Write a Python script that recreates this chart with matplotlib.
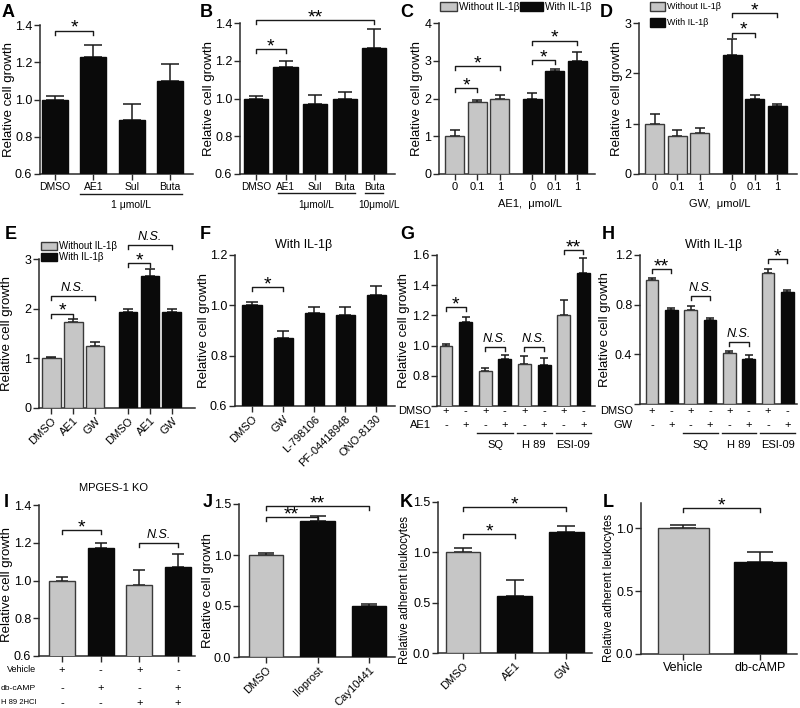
import matplotlib
matplotlib.use('Agg')
import matplotlib.pyplot as plt
import matplotlib.transforms as mtransforms
from matplotlib.patches import Rectangle
import numpy as np

plt.rcParams['font.family'] = ['Liberation Sans', 'DejaVu Sans']

# ---------------- data ----------------
a_labels = ['DMSO', 'AE1', 'Sul', 'Buta']
a_vals = [1.00, 1.23, 0.89, 1.10]
a_errs = [0.02, 0.06, 0.085, 0.09]

b_labels = ['DMSO', 'AE1', 'Sul', 'Buta', 'Buta']
b_vals = [1.00, 1.165, 0.97, 0.995, 1.265]
b_errs = [0.015, 0.035, 0.05, 0.04, 0.105]

dose_labels = ['0', '0.1', '1', '0', '0.1', '1']
c_without = [1.00, 1.90, 1.98]
c_without_err = [0.17, 0.07, 0.12]
c_with = [1.98, 2.72, 3.00]
c_with_err = [0.17, 0.05, 0.22]

d_without = [1.00, 0.75, 0.81]
d_without_err = [0.19, 0.12, 0.11]
d_with = [2.36, 1.50, 1.36]
d_with_err = [0.33, 0.07, 0.04]

e_labels = ['DMSO', 'AE1', 'GW', 'DMSO', 'AE1', 'GW']
e_without = [1.00, 1.73, 1.25]
e_without_err = [0.03, 0.07, 0.08]
e_with = [1.94, 2.65, 1.93]
e_with_err = [0.06, 0.14, 0.06]

f_labels = ['DMSO', 'GW', 'L-798106', 'PF-04418948', 'ONO-8130']
f_vals = [1.00, 0.87, 0.97, 0.96, 1.04]
f_errs = [0.012, 0.028, 0.022, 0.035, 0.035]

g_gray = [1.00, 0.83, 0.88, 1.20]
g_gray_err = [0.01, 0.02, 0.05, 0.10]
g_black = [1.155, 0.91, 0.87, 1.48]
g_black_err = [0.035, 0.03, 0.05, 0.10]
g_dmso = ['+', '-', '+', '-', '+', '-', '+', '-']
g_ae1 = ['-', '+', '-', '+', '-', '+', '-', '+']
inhibitors = ['SQ', 'H 89', 'ESI-09']

h_gray = [1.00, 0.755, 0.41, 1.055]
h_gray_err = [0.015, 0.035, 0.02, 0.035]
h_black = [0.755, 0.675, 0.36, 0.90]
h_black_err = [0.02, 0.02, 0.035, 0.02]
h_dmso = ['+', '-', '+', '-', '+', '-', '+', '-']
h_gw = ['-', '+', '-', '+', '-', '+', '-', '+']

i_vals = [1.00, 1.17, 0.975, 1.07]
i_errs = [0.02, 0.03, 0.08, 0.07]
i_vehicle = ['+', '-', '+', '-']
i_dbcamp = ['-', '+', '-', '+']
i_h89 = ['-', '-', '+', '+']

j_labels = ['DMSO', 'Iloprost', 'Cay10441']
j_vals = [1.00, 1.33, 0.50]
j_errs = [0.02, 0.05, 0.02]

k_labels = ['DMSO', 'AE1', 'GW']
k_vals = [1.00, 0.57, 1.20]
k_errs = [0.04, 0.16, 0.06]

l_labels = ['Vehicle', 'db-cAMP']
l_vals = [1.00, 0.73]
l_errs = [0.025, 0.08]

# ---------------- style ----------------
W, H = 800, 708
GRAY = '#c6c6c6'
BLACK = '#0a0a0a'
GEDGE = '#3a3a3a'
LINE = '#1a1a1a'
TICK_FS = 9
XL_FS = 8
YL_FS = 9.5

fig = plt.figure(figsize=(8, 7.08), dpi=100)
BOX = {}


def make_ax(x0, y0, x1, y1, ylim, yticks, fmt, hide_first=False):
    ax = fig.add_axes([x0 / W, 1 - y1 / H, (x1 - x0) / W, (y1 - y0) / H])
    BOX[ax] = (x0, y0, x1, y1)
    for s in ['top', 'right']:
        ax.spines[s].set_visible(False)
    for s in ['left', 'bottom']:
        ax.spines[s].set_linewidth(1.1)
        ax.spines[s].set_color('#2a2a2a')
    ax.tick_params(direction='out', length=4, width=1.0, color='#2a2a2a',
                   labelsize=TICK_FS, pad=1.5)
    ax.tick_params(axis='x', labelsize=XL_FS)
    ax.set_ylim(*ylim)
    ax.set_yticks(yticks)
    labels = [fmt.format(t) for t in yticks]
    if hide_first:
        labels[0] = ''
    ax.set_yticklabels(labels)
    return ax


def ylab(ax, text, cx, fs=YL_FS, cy_px=None):
    x0, y0, x1, y1 = BOX[ax]
    ax.set_ylabel(text, fontsize=fs)
    yf = 0.5 if cy_px is None else (y1 - cy_px) / (y1 - y0)
    ax.yaxis.set_label_coords((cx + 6 - x0) / (x1 - x0), yf)


def bars(ax, x, vals, errs, colors, width, cap):
    edges = [GEDGE if c == GRAY else BLACK for c in colors]
    ax.bar(x, vals, width, color=colors, edgecolor=edges, linewidth=1.0, zorder=3)
    ax.errorbar(x, vals, yerr=[np.zeros(len(vals)), errs], fmt='none',
                ecolor=LINE, elinewidth=1.1, capsize=cap, capthick=1.1, zorder=2)


def sig(ax, x1, x2, y, label, ns=False):
    x0p, y0p, x1p, y1p = BOX[ax]
    lo, hi = ax.get_ylim()
    dy = 4 * (hi - lo) / (y1p - y0p)
    ax.plot([x1, x1, x2, x2], [y - dy, y, y, y - dy], color=LINE, lw=1.0,
            clip_on=False, zorder=4)
    if ns:
        ax.annotate('N.S.', xy=((x1 + x2) / 2, y), xytext=(0, 1.5),
                    textcoords='offset points', ha='center', va='bottom',
                    fontsize=9, style='italic', annotation_clip=False)
    else:
        ax.annotate(label, xy=((x1 + x2) / 2, y), xytext=(0, -1.5),
                    textcoords='offset points', ha='center', va='baseline',
                    fontsize=14, annotation_clip=False)


def fy(ypx):
    return 1 - ypx / H


def blend(ax):
    return mtransforms.blended_transform_factory(ax.transData, fig.transFigure)


def underline(ax, xa, xb, ypx, label, ylab_px, xlab=None, fs=XL_FS):
    t = blend(ax)
    ax.plot([xa, xb], [fy(ypx), fy(ypx)], transform=t, color=LINE, lw=1.0, clip_on=False)
    xc = (xa + xb) / 2 if xlab is None else xlab
    ax.text(xc, fy(ylab_px), label, transform=t, ha='center', va='center', fontsize=fs)


def sign_rows(ax, xs, rows, names, ys, name_x, name_fs):
    t = blend(ax)
    for row, name, ypx, nfs in zip(rows, names, ys, name_fs):
        fig.text(name_x / W, fy(ypx), name, ha='right', va='center', fontsize=nfs)
        for x, s in zip(xs, row):
            ax.text(x, fy(ypx), s, transform=t, ha='center', va='center', fontsize=XL_FS)


def legend_box(x, y, w, h, color, label, fs=7.5):
    fig.patches.append(Rectangle((x / W, fy(y + h)), w / W, h / H, transform=fig.transFigure,
                                 facecolor=color, edgecolor=GEDGE if color == GRAY else BLACK,
                                 linewidth=1.0))
    fig.text((x + w + 2) / W, fy(y + h / 2), label, ha='left', va='center', fontsize=fs)


def letter(x, y, s):
    fig.text(x / W, fy(y), s, fontsize=13, fontweight='bold', ha='left', va='top')


# ---------------- A ----------------
ax = make_ax(40, 25, 193, 174, (0.6, 1.4), [0.6, 0.8, 1.0, 1.2, 1.4], '{:.1f}')
xa = np.arange(4)
bars(ax, xa, a_vals, a_errs, [BLACK] * 4, 0.68, 6.5)
ax.set_xlim(-0.39, 3.6)
ax.set_xticks(xa)
ax.set_xticklabels(a_labels, fontsize=7.5)
sig(ax, 0, 1, 1.37, '*')
underline(ax, 0.65, 3.32, 194, '1 μmol/L', 205, fs=7.5)
ylab(ax, 'Relative cell growth', 9)
letter(2, 4, 'A')

# ---------------- B ----------------
ax = make_ax(240, 23, 395, 174, (0.6, 1.4), [0.6, 0.8, 1.0, 1.2, 1.4], '{:.1f}')
xb = np.arange(5)
bars(ax, xb, b_vals, b_errs, [BLACK] * 5, 0.82, 5)
ax.set_xlim(-0.54, 4.7)
ax.set_xticks(xb)
ax.set_xticklabels(b_labels, fontsize=7.2)
sig(ax, 0, 1, 1.26, '*')
sig(ax, 0, 4, 1.415, '**')
underline(ax, 0.75, 3.35, 193, '1μmol/L', 205, fs=7.2)
underline(ax, 3.7, 4.3, 193, '10μmol/L', 205, xlab=4.15, fs=7.2)
ylab(ax, 'Relative cell growth', 209)
letter(200, 4, 'B')

# ---------------- C ----------------
pos6 = np.array([0, 1, 2, 3.45, 4.45, 5.45])
ax = make_ax(439, 23, 595, 174, (0, 4), [0, 1, 2, 3, 4], '{:.0f}')
bars(ax, pos6, c_without + c_with, c_without_err + c_with_err,
     [GRAY] * 3 + [BLACK] * 3, 0.85, 3.5)
ax.set_xlim(-0.71, 6.25)
ax.set_xticks(pos6)
ax.set_xticklabels(dose_labels)
sig(ax, 0, 1, 2.27, '*')
sig(ax, 0, 2, 2.86, '*')
sig(ax, 3.45, 4.45, 3.02, '*')
sig(ax, 3.45, 5.45, 3.53, '*')
fig.text(530 / W, fy(204), 'AE1,  μmol/L', ha='center', va='center', fontsize=XL_FS)
ylab(ax, 'Relative cell growth', 417)
legend_box(440, 2, 17, 9, GRAY, 'Without IL-1β', fs=7.3)
legend_box(520, 2, 23, 9, BLACK, 'With IL-1β', fs=7.3)
letter(400, 4, 'C')

# ---------------- D ----------------
ax = make_ax(639, 23, 797, 174, (0, 3), [0, 1, 2, 3], '{:.0f}')
bars(ax, pos6, d_without + d_with, d_without_err + d_with_err,
     [GRAY] * 3 + [BLACK] * 3, 0.85, 3.5)
ax.set_xlim(-0.71, 6.34)
ax.set_xticks(pos6)
ax.set_xticklabels(dose_labels)
sig(ax, 3.45, 4.45, 2.81, '*')
sig(ax, 3.45, 5.45, 3.19, '*')
fig.text(720 / W, fy(204), 'GW,  μmol/L', ha='center', va='center', fontsize=XL_FS)
ylab(ax, 'Relative cell growth', 617)
legend_box(650, 2, 15, 9, GRAY, 'Without IL-1β', fs=6.5)
legend_box(650, 18, 15, 9, BLACK, 'With IL-1β', fs=6.5)
letter(600, 4, 'D')

# ---------------- E ----------------
pos6e = np.array([0, 1, 2, 3.5, 4.5, 5.5])
ax = make_ax(39, 259, 195, 408, (0, 3), [0, 1, 2, 3], '{:.0f}')
bars(ax, pos6e, e_without + e_with, e_without_err + e_with_err,
     [GRAY] * 3 + [BLACK] * 3, 0.86, 3.5)
ax.set_xlim(-0.55, 6.55)
ax.set_xticks(pos6e)
ax.set_xticklabels(e_labels, rotation=45, ha='right', rotation_mode='anchor')
sig(ax, 0, 1, 1.90, '*')
sig(ax, 0, 2, 2.26, '', ns=True)
sig(ax, 3.5, 4.5, 2.92, '*')
sig(ax, 3.5, 5.5, 3.28, '', ns=True)
fig.text(114 / W, fy(488), 'MPGES-1 KO', ha='center', va='center', fontsize=XL_FS)
ylab(ax, 'Relative cell growth', 7)
legend_box(41, 242, 16, 8, GRAY, 'Without IL-1β', fs=7)
legend_box(41, 253, 16, 8, BLACK, 'With IL-1β', fs=7)
letter(5, 226, 'E')

# ---------------- F ----------------
ax = make_ax(235, 255, 395, 406, (0.6, 1.2), [0.6, 0.8, 1.0, 1.2], '{:.1f}')
xf = np.arange(5)
bars(ax, xf, f_vals, f_errs, [BLACK] * 5, 0.62, 4)
ax.set_xlim(-0.55, 4.6)
ax.set_xticks(xf)
ax.set_xticklabels(f_labels, rotation=45, ha='right', rotation_mode='anchor')
sig(ax, 0, 1, 1.072, '*')
fig.text(304 / W, fy(245), 'With IL-1β', ha='center', va='center', fontsize=9)
ylab(ax, 'Relative cell growth', 204)
letter(200, 226, 'F')

# ---------------- G ----------------
x8 = np.arange(8)
ax = make_ax(437, 255, 595, 406, (0.6, 1.6), [0.6, 0.8, 1.0, 1.2, 1.4, 1.6], '{:.1f}',
             hide_first=True)
g_vals = [v for pair in zip(g_gray, g_black) for v in pair]
g_errs = [v for pair in zip(g_gray_err, g_black_err) for v in pair]
bars(ax, x8, g_vals, g_errs, [GRAY, BLACK] * 4, 0.66, 3)
ax.set_xlim(-0.46, 7.6)
ax.set_xticks([])
sig(ax, 0, 1, 1.253, '*')
sig(ax, 2, 3, 0.99, '', ns=True)
sig(ax, 4, 5, 0.99, '', ns=True)
sig(ax, 6, 7, 1.633, '**')
sign_rows(ax, x8, [g_dmso, g_ae1], ['DMSO', 'AE1'], [411, 425], 431, [8, 8])
for k, name in enumerate(inhibitors):
    base = 2 * (k + 1)
    underline(ax, base - 0.4, base + 1.4, 433, name, 445)
ylab(ax, 'Relative cell growth', 404)
letter(400, 226, 'G')

# ---------------- H ----------------
ax = make_ax(640, 255, 797, 404, (0, 1.2), [0.0, 0.4, 0.8, 1.2], '{:.1f}', hide_first=True)
h_vals = [v for pair in zip(h_gray, h_black) for v in pair]
h_errs = [v for pair in zip(h_gray_err, h_black_err) for v in pair]
bars(ax, x8, h_vals, h_errs, [GRAY, BLACK] * 4, 0.67, 3)
ax.set_xlim(-0.62, 7.5)
ax.set_xticks([])
sig(ax, 0, 1, 1.088, '**')
sig(ax, 2, 3, 0.867, '', ns=True)
sig(ax, 4, 5, 0.50, '', ns=True)
sig(ax, 6, 7, 1.168, '*')
sign_rows(ax, x8, [h_dmso, h_gw], ['DMSO', 'GW'], [411, 425], 633, [8, 8])
for k, name in enumerate(inhibitors):
    base = 2 * (k + 1)
    underline(ax, base - 0.4, base + 1.4, 433, name, 445)
fig.text(714 / W, fy(245), 'With IL-1β', ha='center', va='center', fontsize=9)
ylab(ax, 'Relative cell growth', 605)
letter(602, 226, 'H')

# ---------------- I ----------------
xi = np.arange(4)
ax = make_ax(39, 505, 195, 656, (0.6, 1.4), [0.6, 0.8, 1.0, 1.2, 1.4], '{:.1f}')
bars(ax, xi, i_vals, i_errs, [GRAY, BLACK, GRAY, BLACK], 0.67, 4.5)
ax.set_xlim(-0.6, 3.44)
ax.set_xticks(xi)
ax.set_xticklabels([])
sig(ax, 0, 1, 1.265, '*')
sig(ax, 2, 3, 1.20, '', ns=True)
sign_rows(ax, xi, [i_vehicle, i_dbcamp, i_h89], ['Vehicle', 'db-cAMP', 'H 89 2HCl'],
          [670, 688, 703], 36, [6.5, 6.1, 5.5])
ylab(ax, 'Relative cell growth', 7, cy_px=585)
letter(4, 494, 'I')

# ---------------- J ----------------
x3 = np.arange(3)
ax = make_ax(239, 504, 395, 657, (0, 1.5), [0.0, 0.5, 1.0, 1.5], '{:.1f}')
bars(ax, x3, j_vals, j_errs, [GRAY, BLACK, BLACK], 0.66, 6)
ax.set_xlim(-0.52, 2.5)
ax.set_xticks(x3)
ax.set_xticklabels(j_labels, rotation=45, ha='right', rotation_mode='anchor')
sig(ax, 0, 1, 1.37, '**')
sig(ax, 0, 2, 1.48, '**')
ylab(ax, 'Relative cell growth', 208, cy_px=590)
letter(203, 494, 'J')

# ---------------- K ----------------
ax = make_ax(438, 502, 592, 653, (0, 1.5), [0.0, 0.5, 1.0, 1.5], '{:.1f}')
bars(ax, x3, k_vals, k_errs, [GRAY, BLACK, BLACK], 0.67, 6.5)
ax.set_xlim(-0.49, 2.5)
ax.set_xticks(x3)
ax.set_xticklabels(k_labels, rotation=45, ha='right', rotation_mode='anchor')
sig(ax, 0, 1, 1.18, '*')
sig(ax, 0, 2, 1.45, '*')
ylab(ax, 'Relative adherent leukocytes', 405, fs=8.3, cy_px=590)
letter(400, 494, 'K')

# ---------------- L ----------------
x2 = np.arange(2)
ax = make_ax(641, 503, 797, 654, (0, 1.2), [0.0, 0.5, 1.0], '{:.1f}')
bars(ax, x2, l_vals, l_errs, [GRAY, BLACK], 0.67, 9.5)
ax.set_xlim(-0.55, 1.48)
ax.set_xticks(x2)
ax.set_xticklabels(l_labels, fontsize=9)
sig(ax, 0, 1, 1.16, '*')
ylab(ax, 'Relative adherent leukocytes', 609, fs=8.3, cy_px=588)
letter(603, 494, 'L')

fig.savefig('out.png', dpi=100)
